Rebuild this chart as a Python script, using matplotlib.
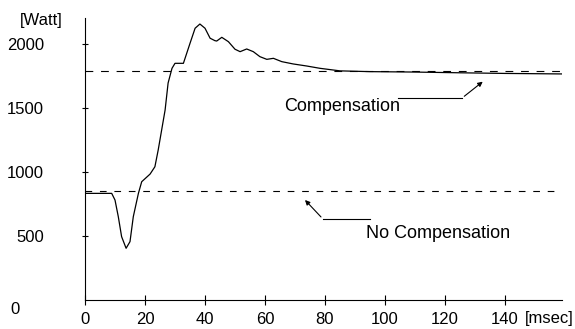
import matplotlib
matplotlib.use("Agg")
import matplotlib.pyplot as plt

plt.rcParams['font.family'] = ['Liberation Sans', 'DejaVu Sans']

### data
t_ms = [0, 8.9, 10, 11.1, 12.2, 13.7, 15, 16.1, 17.8, 18.9, 21.7, 23.3, 24.4, 26.7,
        27.7, 29, 30, 32.8, 35, 36.7, 38.3, 40, 41.7, 43.3, 43.9, 45.6, 47.8, 50,
        51.7, 53.9, 56.1, 58.3, 60.6, 62.8, 65.6, 69.4, 73.9, 78.3, 85, 95, 109,
        125, 140, 159]
power = [833, 833, 781, 651, 495, 404, 456, 651, 833, 924, 984, 1041, 1172, 1484,
         1695, 1810, 1849, 1849, 2005, 2123, 2156, 2123, 2045, 2026, 2023, 2052, 2018, 1959,
         1940, 1961, 1940, 1901, 1880, 1888, 1862, 1844, 1828, 1810, 1790, 1784, 1781,
         1775, 1770, 1766]
level_comp = 1790
level_nocomp = 850
xticks = [0, 20, 40, 60, 80, 100, 120, 140]
yticks = [500, 1000, 1500, 2000]

W, H = 575, 329
fig = plt.figure(figsize=(W/100, H/100), dpi=100)
ax = fig.add_axes([85/W, 1-300/H, (562-85)/W, (300-18)/H])
ax.set_xlim(0, 159)
ax.set_ylim(0, 2203)

ax.plot(t_ms, power, color='black', lw=0.9)
ax.plot([0, 159], [level_comp, level_comp], color='black', lw=0.8, dashes=(7, 7))
ax.plot([0, 159], [level_nocomp, level_nocomp], color='black', lw=0.8, dashes=(6, 7))

for s in ['top', 'right']:
    ax.spines[s].set_visible(False)
for s in ['left', 'bottom']:
    ax.spines[s].set_linewidth(0.8)
ax.set_xticks(xticks)
ax.set_yticks(yticks)
ax.tick_params(axis='x', direction='inout', length=7, width=0.8, pad=5, labelsize=12)
ax.tick_params(axis='y', direction='inout', length=5, width=0.8, pad=27, labelsize=12)

### labels placed in figure pixels
def ftext(x, y, s, **kw):
    fig.text(x/W, 1-y/H, s, fontsize=12, **kw)

ftext(15, 310, "0", ha='center', va='center')
ftext(41, 20, "[Watt]", ha='center', va='center')
ftext(574, 319, "[msec]", ha='right', va='center')

### annotations
ax.text(85.7, 1508, "Compensation", ha='center', va='center', fontsize=13)
ax.plot([104.3, 125.7], [1578, 1578], color='black', lw=0.8)
ax.annotate("", xy=(133.3, 1719), xytext=(125.7, 1578),
            arrowprops=dict(arrowstyle='-|>', color='black', lw=0.8, mutation_scale=7))
ax.text(117.7, 523, "No Compensation", ha='center', va='center', fontsize=13)
ax.plot([95, 79.3], [633, 633], color='black', lw=0.8)
ax.annotate("", xy=(72.7, 797), xytext=(79.3, 633),
            arrowprops=dict(arrowstyle='-|>', color='black', lw=0.8, mutation_scale=7))

fig.savefig("out.png", dpi=100)
